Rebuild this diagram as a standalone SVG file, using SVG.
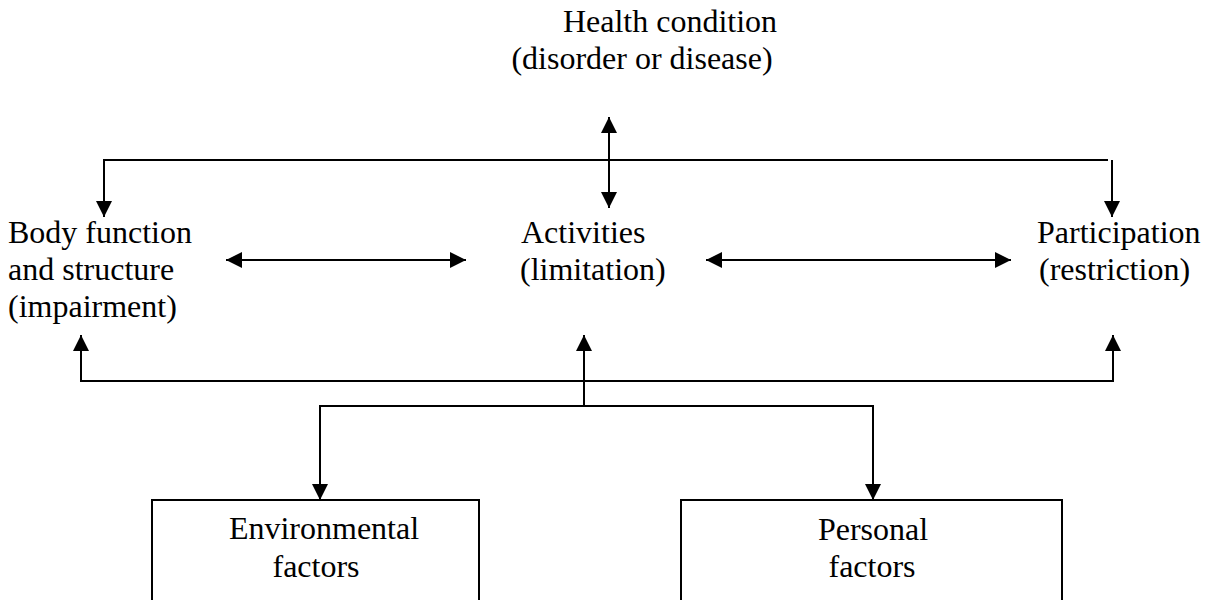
<svg xmlns="http://www.w3.org/2000/svg" width="1210" height="600" viewBox="0 0 1210 600">
<style>
text{font-family:"Liberation Serif","Times New Roman",serif;font-size:32px;fill:#000}
.ln{fill:none;stroke:#000;stroke-width:2}
.box{fill:#fff;stroke:#000;stroke-width:2}
</style>
<defs>
<marker id="ah" viewBox="0 0 16 16" refX="16" refY="8" markerWidth="16" markerHeight="16" markerUnits="userSpaceOnUse" orient="auto-start-reverse">
<path d="M0,0 L16,8 L0,16 Z" fill="#000"/>
</marker>
</defs>
<g id="connectors">
<line class="ln" x1="609" y1="117" x2="609" y2="208" marker-start="url(#ah)" marker-end="url(#ah)"/>
<polyline class="ln" points="104,217 104,160 1108,160" marker-end="none"/>
<line class="ln" x1="104" y1="200" x2="104" y2="217" marker-end="url(#ah)"/>
<line class="ln" x1="1112" y1="160" x2="1112" y2="217" marker-end="url(#ah)"/>
<line class="ln" x1="226" y1="260" x2="466" y2="260" marker-start="url(#ah)" marker-end="url(#ah)"/>
<line class="ln" x1="706" y1="260" x2="1011" y2="260" marker-start="url(#ah)" marker-end="url(#ah)"/>
<polyline class="ln" points="81,335 81,381 1113,381 1113,335" marker-start="url(#ah)" marker-end="url(#ah)"/>
<line class="ln" x1="584" y1="406" x2="584" y2="335" marker-end="url(#ah)"/>
<polyline class="ln" points="320,500 320,406 873,406 873,500" marker-start="url(#ah)" marker-end="url(#ah)"/>
</g>
<g id="health">
<text x="670" y="32" text-anchor="middle">Health condition</text>
<text x="642" y="69" text-anchor="middle">(disorder or disease)</text>
</g>
<g id="body">
<text x="8" y="243">Body function</text>
<text x="8" y="280">and structure</text>
<text x="8" y="317">(impairment)</text>
</g>
<g id="activities">
<text x="521" y="243">Activities</text>
<text x="520" y="280">(limitation)</text>
</g>
<g id="participation">
<text x="1037" y="243">Participation</text>
<text x="1039" y="280">(restriction)</text>
</g>
<g id="environmental">
<rect class="box" x="152" y="500" width="327" height="110"/>
<text x="324" y="539" text-anchor="middle">Environmental</text>
<text x="316" y="577" text-anchor="middle">factors</text>
</g>
<g id="personal">
<rect class="box" x="681" y="500" width="381" height="110"/>
<text x="873" y="540" text-anchor="middle">Personal</text>
<text x="872" y="577" text-anchor="middle">factors</text>
</g>
</svg>
